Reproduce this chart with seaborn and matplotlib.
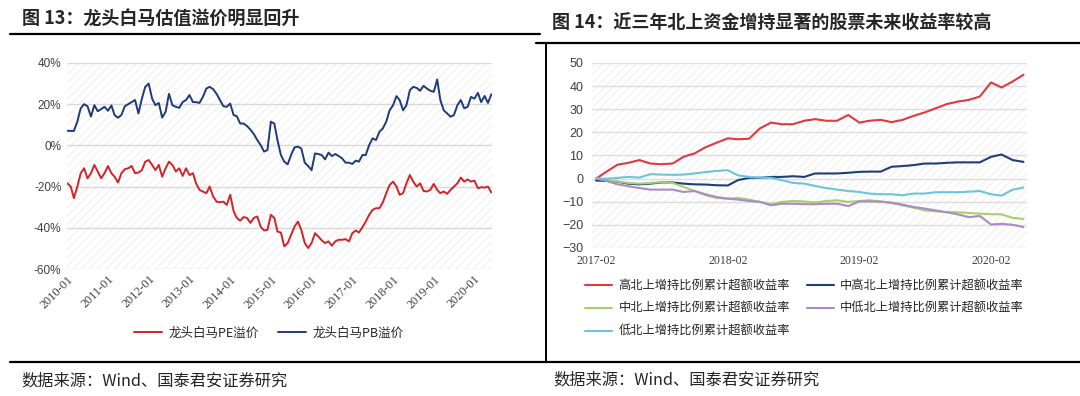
import numpy as np
import pandas as pd
import seaborn as sns
import matplotlib.pyplot as plt
from matplotlib.lines import Line2D
from matplotlib.patches import Rectangle
import matplotlib.dates as mdates
import matplotlib.ticker as mticker

# ---------------- data ----------------
# fig 13: monthly premium of leading blue chips, 2010-01 .. 2020-06 (%)
pe_premium = [
    -18.4, -20.0, -25.6, -20.0, -13.5, -11.1, -16.0, -13.5, -9.5, -12.7, -16.0, -13.5,
    -10.0, -13.5, -15.2, -18.0, -13.5, -11.6, -11.1, -10.0, -13.5, -13.2, -12.0, -7.9,
    -7.1, -9.5, -12.0, -9.5, -15.2, -11.1, -7.9, -9.5, -12.7, -11.1, -14.8, -11.1,
    -14.4, -13.5, -18.4, -21.6, -22.4, -23.2, -20.0, -24.8, -27.3, -27.6, -27.3, -28.9,
    -24.0, -32.0, -35.2, -36.5, -34.8, -35.2, -37.6, -35.2, -34.5, -39.4, -41.3, -41.0,
    -33.7, -35.2, -41.8, -42.3, -49.0, -47.4, -43.5, -39.4, -37.0, -41.0, -47.4, -49.8,
    -47.4, -42.6, -44.2, -46.1, -47.4, -46.6, -48.7, -46.6, -45.8, -45.8, -45.5, -46.6,
    -42.6, -41.3, -42.3, -39.7, -37.0, -33.7, -31.3, -30.5, -30.5, -27.7, -23.2, -19.2,
    -17.6, -20.0, -24.0, -23.2, -18.4, -14.4, -17.6, -20.0, -18.4, -22.1, -22.4, -21.6,
    -18.7, -21.6, -23.2, -22.4, -23.5, -21.6, -20.0, -18.4, -15.6, -17.6, -16.5, -17.6,
    -17.1, -20.8, -20.3, -20.5, -20.0, -22.9,
]
pb_premium = [
    7.1, 7.0, 7.0, 11.5, 18.0, 20.0, 19.0, 14.0, 19.5, 16.6, 17.6, 18.7,
    16.8, 19.4, 14.7, 13.4, 14.7, 19.0, 20.0, 21.0, 22.0, 15.5, 22.7, 28.4,
    30.0, 22.7, 19.5, 20.6, 13.5, 16.3, 25.0, 19.5, 18.7, 18.2, 21.0, 22.0,
    24.4, 21.0, 21.0, 20.6, 23.5, 27.6, 28.4, 27.3, 25.0, 22.0, 19.0, 18.7,
    20.3, 14.7, 14.2, 10.6, 10.6, 9.4, 7.7, 5.5, 2.6, 0.2, -3.0, -2.3,
    11.5, 10.6, 2.6, -4.7, -7.9, -9.2, -4.7, -1.0, -0.6, -1.5, -8.4, -10.0,
    -12.0, -3.9, -4.2, -4.7, -6.8, -3.5, -5.2, -4.2, -5.2, -6.3, -8.4, -8.4,
    -9.0, -7.4, -7.9, -4.7, -4.7, 0.2, 3.4, 2.6, 6.6, 8.2, 11.5, 17.0,
    19.5, 23.9, 22.0, 17.0, 19.5, 26.8, 28.4, 27.9, 26.5, 28.9, 27.6, 26.5,
    26.0, 32.0, 22.0, 17.0, 15.5, 13.9, 14.7, 19.5, 22.0, 18.0, 18.7, 23.5,
    22.7, 25.5, 21.0, 24.0, 20.6, 24.8,
]
left_dates = pd.date_range("2010-01-01", periods=len(pe_premium), freq="MS")
left_names = ["龙头白马PE溢价", "龙头白马PB溢价"]
left_ticks = pd.date_range("2010-01-01", "2020-01-01", freq="YS")

# fig 14: cumulative excess return by northbound increase group, 2017-02 .. 2020-05
grp_high = [0, 2.9, 6.0, 6.8, 8.0, 6.5, 6.2, 6.5, 9.4, 10.9, 13.5, 15.5, 17.4, 17.0,
            17.2, 21.7, 24.2, 23.5, 23.5, 25.0, 25.7, 25.0, 25.0, 27.5, 24.2, 25.0,
            25.4, 24.4, 25.4, 27.1, 28.6, 30.4, 32.2, 33.3, 34.0, 35.5, 41.6, 39.4,
            42.0, 44.9]
grp_midhigh = [-0.9, -1.0, -1.4, -2.2, -2.5, -2.2, -1.7, -1.7, -2.2, -2.5, -2.6, -2.9,
               -3.0, -0.7, 0.3, 0.3, 0.7, 0.7, 1.0, 0.7, 2.2, 2.2, 2.2, 2.5, 2.9, 3.0,
               3.0, 5.1, 5.4, 5.8, 6.5, 6.5, 6.8, 7.0, 7.0, 7.0, 9.4, 10.4, 8.0, 7.2]
grp_mid = [0, -0.7, -1.3, -1.9, -2.2, -1.9, -1.6, -1.9, -3.6, -5.4, -7.2, -8.4, -8.7,
           -8.4, -9.1, -10.1, -11.1, -10.1, -9.7, -9.9, -10.4, -9.7, -9.4, -10.1, -9.7,
           -9.4, -9.9, -10.6, -11.6, -12.6, -13.8, -14.2, -14.5, -14.6, -14.9, -15.2,
           -15.4, -15.5, -17.0, -17.5]
grp_midlow = [0, -1.0, -2.5, -3.3, -4.1, -4.8, -4.8, -4.8, -5.8, -5.4, -6.8, -8.0, -8.7,
              -9.1, -9.7, -10.1, -11.6, -10.9, -10.9, -11.1, -11.1, -10.9, -10.9, -11.9,
              -9.9, -9.9, -10.0, -10.4, -11.3, -12.3, -13.0, -13.8, -14.6, -15.5, -16.7,
              -16.2, -19.9, -19.6, -20.0, -21.0]
grp_low = [0, -0.1, 0.3, 0.7, 0.4, 1.9, 1.7, 1.6, 1.7, 2.2, 2.8, 3.3, 3.6, 1.4, 0.7,
           0.4, 0.3, -0.7, -1.9, -2.2, -3.2, -4.1, -4.8, -5.4, -5.8, -6.5, -6.8, -6.8,
           -7.2, -6.5, -6.5, -5.9, -5.9, -5.9, -5.7, -5.4, -6.8, -7.4, -4.8, -3.9]
right_dates = pd.date_range("2017-02-01", periods=len(grp_high), freq="MS")
right_names = ["高北上增持比例累计超额收益率", "中高北上增持比例累计超额收益率",
               "中北上增持比例累计超额收益率", "中低北上增持比例累计超额收益率",
               "低北上增持比例累计超额收益率"]
right_ticks = pd.to_datetime(["2017-02-01", "2018-02-01", "2019-02-01", "2020-02-01"])

left_df = pd.concat([
    pd.DataFrame({"date": left_dates, "value": v, "series": n})
    for n, v in zip(left_names, [pe_premium, pb_premium])
])
right_df = pd.concat([
    pd.DataFrame({"date": right_dates, "value": v, "series": n})
    for n, v in zip(right_names, [grp_high, grp_midhigh, grp_mid, grp_midlow, grp_low])
])

# ---------------- style ----------------
sns.set_theme(style="white")
plt.rcParams["font.family"] = ["Noto Sans CJK SC", "DejaVu Sans"]
plt.rcParams["hatch.linewidth"] = 0.6
plt.rcParams["hatch.color"] = "#ececec"

CJK = ["Noto Sans CJK SC", "DejaVu Sans"]
SERIF = ["Liberation Serif", "DejaVu Serif"]
SANS = ["Liberation Sans", "DejaVu Sans"]

fig = plt.figure(figsize=(10.8, 3.96), dpi=100)


def hatch_bg(ax):
    ax.add_patch(Rectangle((0, 0), 1, 1, transform=ax.transAxes, facecolor="white",
                           edgecolor="#ececec", hatch="////", lw=0, zorder=0))


# ---- left chart ----
ax1 = fig.add_axes([0.062, 0.3207, 0.3935, 0.5203])
hatch_bg(ax1)
sns.lineplot(data=left_df, x="date", y="value", hue="series", ax=ax1,
             palette=["#d2232a", "#1f3a78"], linewidth=1.4, legend=False, zorder=3)
ax1.set_ylim(-60, 40)
ax1.set_xlim(left_dates[0] - pd.Timedelta(days=3), left_dates[-1] + pd.Timedelta(days=5))
ax1.set_yticks([-60, -40, -20, 0, 20, 40])
ax1.yaxis.set_major_formatter(mticker.FuncFormatter(lambda v, p: f"{v:.0f}%"))
ax1.set_xticks(left_ticks)
ax1.xaxis.set_major_formatter(mdates.DateFormatter("%Y-%m"))
ax1.grid(axis="y", color="#d9d9d9", lw=1.0, zorder=1)
for s in ax1.spines.values():
    s.set_visible(False)
ax1.set_xlabel("")
ax1.set_ylabel("")
ax1.tick_params(axis="y", length=0, pad=4, labelsize=8.5, labelcolor="#404040")
ax1.tick_params(axis="x", length=0, pad=3, labelsize=8.8, labelcolor="#404040")
for lab in ax1.get_yticklabels():
    lab.set_fontfamily(SANS)
for lab in ax1.get_xticklabels():
    lab.set_fontfamily(SERIF)
    lab.set_rotation(45)
    lab.set_ha("right")
    lab.set_rotation_mode("anchor")

h1 = [Line2D([], [], color=c, lw=1.4) for c in ["#d2232a", "#1f3a78"]]
ax1.legend(h1, left_names, loc="center", bbox_to_anchor=(0.475, -0.31), ncol=2,
           frameon=False, fontsize=9, handlelength=2.2, columnspacing=1.6,
           handletextpad=0.5)

# ---- right chart ----
ax2 = fig.add_axes([0.548, 0.374, 0.403, 0.467])
hatch_bg(ax2)
right_pal = ["#e0393e", "#1f3d7a", "#a9cf6b", "#a98bc7", "#6cc4dc"]
sns.lineplot(data=right_df, x="date", y="value", hue="series", ax=ax2,
             palette=right_pal, linewidth=1.5, legend=False, zorder=3)
ax2.set_ylim(-30, 50)
ax2.set_xlim(right_dates[0] - pd.Timedelta(days=12), right_dates[-1] + pd.Timedelta(days=10))
ax2.set_yticks(range(-30, 51, 10))
ax2.set_xticks(right_ticks)
ax2.xaxis.set_major_formatter(mdates.DateFormatter("%Y-%m"))
ax2.grid(axis="y", color="#dedede", lw=1.0, zorder=1)
for s in ax2.spines.values():
    s.set_visible(False)
ax2.set_xlabel("")
ax2.set_ylabel("")
ax2.tick_params(axis="y", length=0, pad=6, labelsize=9, labelcolor="#404040")
ax2.tick_params(axis="x", length=0, pad=5, labelsize=8.5, labelcolor="#404040")
for lab in ax2.get_yticklabels():
    lab.set_fontfamily(SANS)
for lab in ax2.get_xticklabels():
    lab.set_fontfamily(SERIF)

h2 = [Line2D([], [], color=c, lw=1.5) for c in right_pal]
order = [0, 2, 4, 1, 3]
ax2.legend([h2[i] for i in order], [right_names[i] for i in order],
           loc="upper left", bbox_to_anchor=(-0.04, -0.11), ncol=2, frameon=False,
           fontsize=8.8, handlelength=2.2, columnspacing=1.4, handletextpad=0.5,
           labelspacing=0.8)

# ---- frame: titles, rules, sources ----
fig.text(0.020, 0.955, "图 13：龙头白马估值溢价明显回升", fontsize=13, fontweight="bold",
         va="center", ha="left", family=CJK)
fig.text(0.511, 0.942, "图 14：近三年北上资金增持显著的股票未来收益率较高", fontsize=13,
         fontweight="bold", va="center", ha="left", family=CJK)
fig.add_artist(Line2D([0.009, 0.5], [0.914, 0.914], color="black", lw=1.6,
                      transform=fig.transFigure))
fig.add_artist(Line2D([0.496, 1.0], [0.891, 0.891], color="black", lw=1.6,
                      transform=fig.transFigure))
fig.add_artist(Line2D([0.009, 1.0], [0.086, 0.086], color="black", lw=1.6,
                      transform=fig.transFigure))
fig.add_artist(Line2D([0.5055, 0.5055], [0.086, 0.891], color="black", lw=1.4,
                      transform=fig.transFigure))
fig.text(0.020, 0.039, "数据来源：Wind、国泰君安证券研究", fontsize=11.7,
         va="center", ha="left", family=CJK)
fig.text(0.512, 0.040, "数据来源：Wind、国泰君安证券研究", fontsize=11.7,
         va="center", ha="left", family=CJK)

fig.savefig("out.png", dpi=100)
